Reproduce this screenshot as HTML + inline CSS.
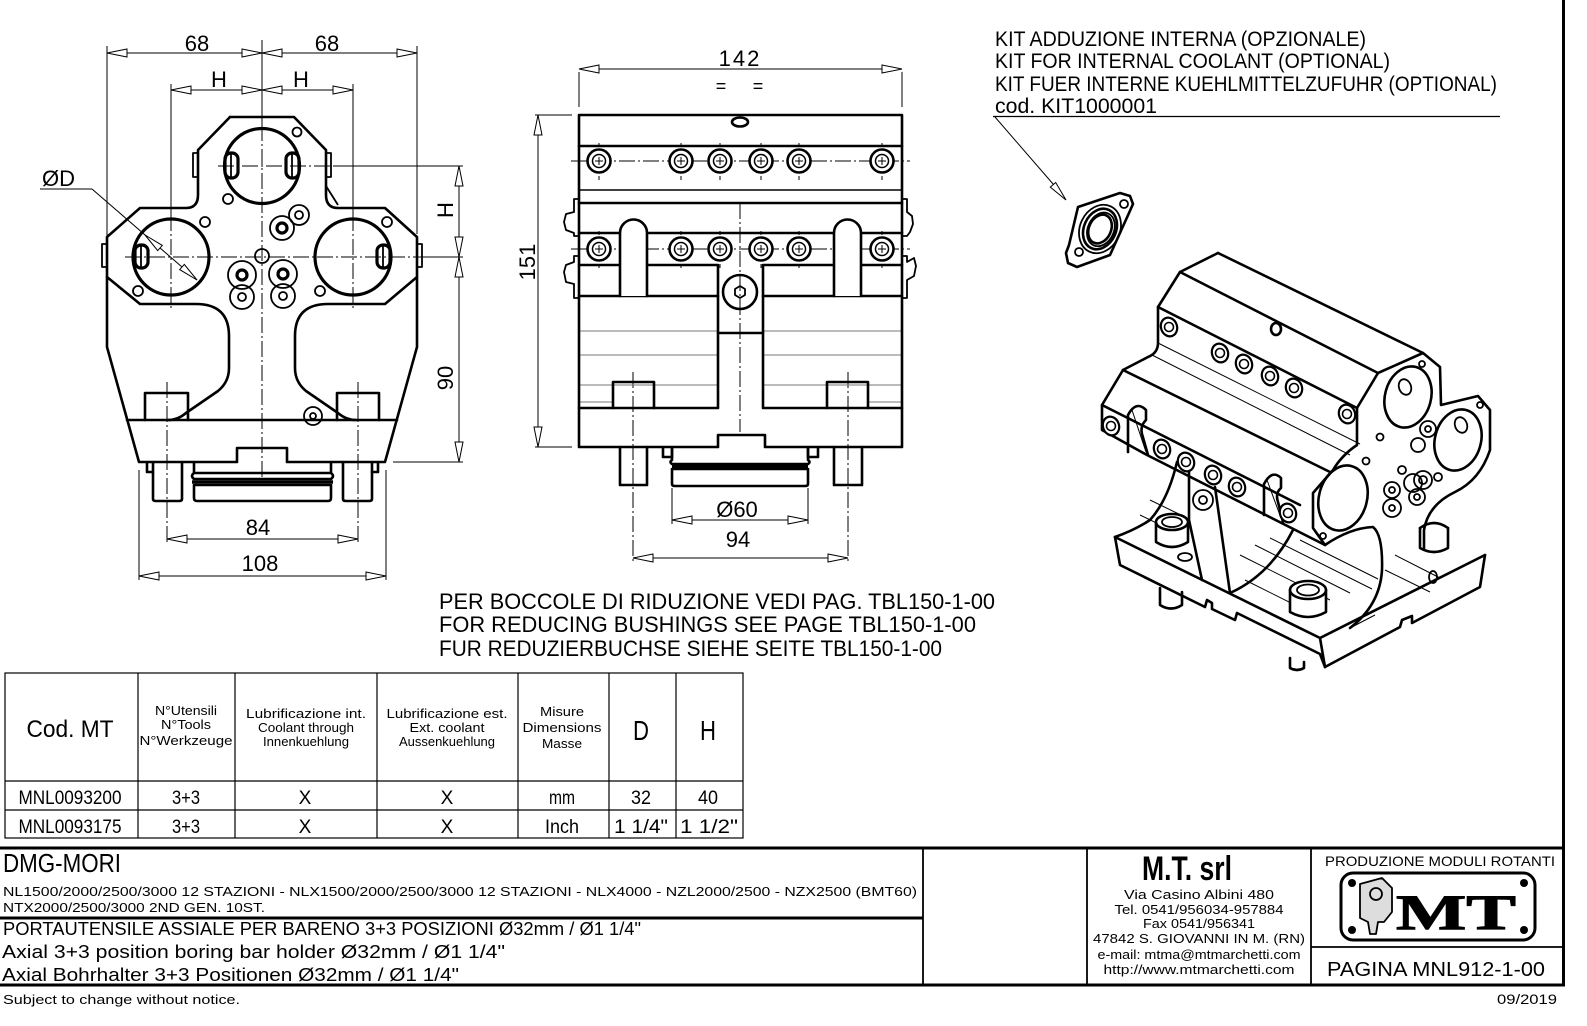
<!DOCTYPE html>
<html><head><meta charset="utf-8"><style>
html,body{margin:0;padding:0;background:#fff;}
svg{display:block}
text{font-family:"Liberation Sans",sans-serif;fill:#000}
</style></head><body>
<svg width="1587" height="1026" viewBox="0 0 1587 1026" xmlns="http://www.w3.org/2000/svg">
<defs><style>
.k{stroke:#000;stroke-width:2.6;fill:none;stroke-linejoin:round;stroke-linecap:round}
.m{stroke:#000;stroke-width:1.8;fill:none;stroke-linejoin:round}
.t{stroke:#000;stroke-width:1;fill:none}
.g{stroke:#777;stroke-width:1;fill:none}
.c{stroke:#000;stroke-width:1;fill:none;stroke-dasharray:16 3 2 3}
.a{fill:#fff;stroke:#000;stroke-width:1}
</style></defs>
<rect width="1587" height="1026" fill="#fff"/>

<!-- ================= LEFT FRONT VIEW ================= -->
<g class="t">
<line x1="107" y1="46" x2="107" y2="240"/>
<line x1="417" y1="46" x2="417" y2="234"/>
<line x1="171" y1="84" x2="171" y2="215"/>
<line x1="353" y1="84" x2="353" y2="215"/>
<line x1="262" y1="40" x2="262" y2="125"/>
<line x1="335" y1="166" x2="463" y2="166"/>
<line x1="425" y1="257" x2="463" y2="257"/>
<line x1="393" y1="462" x2="463" y2="462"/>
<line x1="139" y1="470" x2="139" y2="580"/>
<line x1="386" y1="470" x2="386" y2="580"/>
<line x1="107" y1="53" x2="417" y2="53"/>
<line x1="171" y1="90" x2="353" y2="90"/>
<line x1="459" y1="166" x2="459" y2="462"/>
<line x1="167" y1="539" x2="358" y2="539"/>
<line x1="139" y1="576" x2="386" y2="576"/>
<line x1="40" y1="189" x2="92" y2="189"/>
<line x1="92" y1="189" x2="197" y2="280"/>
</g>
<g class="c">
<line x1="262" y1="125" x2="262" y2="480"/>
<line x1="171" y1="215" x2="171" y2="310"/>
<line x1="353" y1="215" x2="353" y2="310"/>
<line x1="218" y1="166" x2="335" y2="166"/>
<line x1="125" y1="257" x2="425" y2="257"/>
<line x1="167" y1="382" x2="167" y2="542"/>
<line x1="358" y1="382" x2="358" y2="542"/>
</g>
<g class="k">
<path d="M230,117 L294,117 L326,150 L326,195 Q326,208 338,208 L385,208 L417,237 L417,277 L385,304 L328,304 Q295,304 295,336 L295,368 Q295,382 306,391 L338,413 Q346,420 356,420"/>
<path d="M230,117 L198,150 L198,195 Q198,208 186,208 L140,208 L107,237 L107,277 L140,304 L196,304 Q229,304 229,336 L229,368 Q229,382 218,391 L186,413 Q178,420 168,420"/>
<path d="M107,277 L107,347 L139,462 L237,462 L237,448 L287,448 L287,462 L385,462 L417,347 L417,277"/>
<line x1="127" y1="420" x2="397" y2="420"/>
<path d="M145,420 L145,393 L188,393 L188,420"/>
<path d="M337,420 L337,393 L379,393 L379,420"/>
<path d="M153,463 L153,499 Q153,501 156,501 L179,501 Q182,501 182,499 L182,463"/>
<path d="M343,463 L343,499 Q343,501 346,501 L369,501 Q372,501 372,499 L372,463"/>
<path d="M147,463 L147,472 L153,472"/><path d="M378,463 L378,472 L372,472"/>
<path d="M194,463 L194,473 Q190,476 194,479 L331,479 Q335,476 331,473 L331,463"/>
<path d="M194,473 L331,473"/>
<path d="M194,485 L194,498 Q194,501 197,501 L328,501 Q331,501 331,498 L331,485 Z"/>
</g>
<line x1="192" y1="482" x2="333" y2="482" stroke="#000" stroke-width="3.5"/>
<g stroke="#000" stroke-width="3.2" fill="none">
<circle cx="262" cy="166" r="37.5"/>
<circle cx="171" cy="257" r="38"/>
<circle cx="353" cy="257" r="38"/>
<rect x="225" y="153" width="13" height="25" rx="6"/>
<rect x="286" y="153" width="13" height="25" rx="6"/>
<rect x="135" y="245" width="13" height="23" rx="6"/>
<rect x="377" y="245" width="13" height="23" rx="6"/>
</g>
<g class="m">
<line x1="231" y1="154" x2="231" y2="177"/><line x1="292" y1="154" x2="292" y2="177"/>
<line x1="141" y1="246" x2="141" y2="267"/><line x1="383" y1="246" x2="383" y2="267"/>
<rect x="193" y="153" width="5" height="24"/><rect x="326" y="153" width="5" height="24"/>
<rect x="102" y="244" width="5" height="23"/><rect x="417" y="244" width="5" height="23"/>
<path d="M326,186 L338,205"/>
<circle cx="297" cy="132" r="4.5"/><circle cx="228" cy="199" r="5"/>
<circle cx="205" cy="222" r="5"/><circle cx="387" cy="222" r="5"/>
<circle cx="138" cy="291" r="5"/><circle cx="320" cy="291" r="5"/>
<circle cx="262" cy="256" r="7"/>
<circle cx="282" cy="228" r="12"/><circle cx="299" cy="215" r="10"/><circle cx="299" cy="215" r="4"/>
<circle cx="242" cy="275" r="14"/><circle cx="242" cy="297" r="12"/><circle cx="242" cy="297" r="4"/>
<circle cx="283" cy="274" r="14"/><circle cx="283" cy="296" r="12"/><circle cx="283" cy="296" r="4"/>
<circle cx="313" cy="416" r="9"/><circle cx="313" cy="416" r="3"/>
</g>
<g stroke="#000" stroke-width="3.2" fill="none">
<circle cx="282" cy="228" r="5"/><circle cx="242" cy="275" r="5"/><circle cx="283" cy="274" r="5"/>
</g>
<g class="a">
<polygon points="107,53 127,49 127,57"/><polygon points="262,53 242,49 242,57"/>
<polygon points="262,53 282,49 282,57"/><polygon points="417,53 397,49 397,57"/>
<polygon points="171,90 191,86 191,94"/><polygon points="262,90 242,86 242,94"/>
<polygon points="262,90 282,86 282,94"/><polygon points="353,90 333,86 333,94"/>
<polygon points="459,166 455,186 463,186"/><polygon points="459,257 455,237 463,237"/>
<polygon points="459,257 455,277 463,277"/><polygon points="459,462 455,442 463,442"/>
<polygon points="167,539 187,535 187,543"/><polygon points="358,539 338,535 338,543"/>
<polygon points="139,576 159,572 159,580"/><polygon points="386,576 366,572 366,580"/>
<polygon points="145,235 157.7,250.6 162.3,245.4"/>
<polygon points="197,280 179.7,269.6 184.3,264.4"/>
</g>
<g font-size="22">
<text x="197" y="51" text-anchor="middle">68</text>
<text x="327" y="51" text-anchor="middle">68</text>
<text x="219" y="87" text-anchor="middle">H</text>
<text x="301" y="87" text-anchor="middle">H</text>
<text x="258" y="535" text-anchor="middle">84</text>
<text x="260" y="571" text-anchor="middle">108</text>
<text x="42" y="186">ØD</text>
<text transform="translate(453,210) rotate(-90)" text-anchor="middle">H</text>
<text transform="translate(453,378) rotate(-90)" text-anchor="middle">90</text>
</g>

<!-- ================= MIDDLE SIDE VIEW ================= -->
<g class="t">
<line x1="579" y1="72" x2="579" y2="107"/><line x1="902" y1="72" x2="902" y2="107"/>
<line x1="579" y1="69" x2="902" y2="69"/>
<line x1="535" y1="115" x2="572" y2="115"/><line x1="535" y1="447" x2="572" y2="447"/>
<line x1="538" y1="115" x2="538" y2="447"/>
<line x1="672" y1="488" x2="672" y2="524"/><line x1="808" y1="488" x2="808" y2="524"/>
<line x1="672" y1="520" x2="808" y2="520"/>
<line x1="633" y1="558" x2="848" y2="558"/>
</g>
<g class="c">
<line x1="740" y1="203" x2="740" y2="432"/>
<line x1="633" y1="372" x2="633" y2="562"/>
<line x1="848" y1="372" x2="848" y2="562"/>
<line x1="571" y1="161" x2="910" y2="161"/>
<line x1="571" y1="249" x2="910" y2="249"/>
</g>
<g class="g">
<line x1="579" y1="331" x2="718" y2="331"/><line x1="763" y1="331" x2="902" y2="331"/>
<line x1="579" y1="355" x2="718" y2="355"/><line x1="763" y1="355" x2="902" y2="355"/>
<line x1="579" y1="385" x2="718" y2="385"/><line x1="763" y1="385" x2="902" y2="385"/>
<line x1="579" y1="402" x2="613" y2="402"/><line x1="868" y1="402" x2="902" y2="402"/>
</g>
<g class="k">
<path d="M579,115 L902,115 L902,447 L765,447 L765,435 L718,435 L718,447 L579,447 Z"/>
<line x1="579" y1="146" x2="902" y2="146"/>
<line x1="579" y1="203" x2="902" y2="203"/>
<line x1="579" y1="233" x2="902" y2="233"/>
<path d="M579,265 L718,265 L718,408 L579,408"/>
<path d="M902,265 L763,265 L763,408 L902,408"/>
<line x1="718" y1="333" x2="763" y2="333"/>
<line x1="579" y1="296" x2="718" y2="296"/>
<line x1="763" y1="296" x2="902" y2="296"/>
<path d="M613,408 L613,382 L654,382 L654,408"/>
<path d="M827,408 L827,382 L868,382 L868,408"/>
<path d="M620,447 L620,485 L647,485 L647,447"/>
<path d="M834,447 L834,485 L862,485 L862,447"/>
<path d="M663,448 L663,457 L672,457 L672,448"/><path d="M818,448 L818,457 L808,457 L808,448"/>
<path d="M672,448 L672,460 Q669,462 672,464 L808,464 Q811,462 808,460 L808,448"/>
<path d="M672,469 L672,484 Q672,486 675,486 L805,486 Q808,486 808,484 L808,469 Z"/>
<ellipse cx="740" cy="122" rx="8" ry="4.5"/>
<circle cx="740" cy="292" r="17"/>
</g>
<line x1="672" y1="466.5" x2="808" y2="466.5" stroke="#000" stroke-width="3"/>
<line x1="579" y1="190" x2="902" y2="190" stroke="#000" stroke-width="1.4"/>
<polygon points="740,286 745,289 745,295 740,298 735,295 735,289" class="m"/>
<g class="k">
<path d="M620,296 L620,233 A13.5,13.5 0 0 1 647,233 L647,296" fill="#fff"/>
<path d="M834,296 L834,233 A13.5,13.5 0 0 1 861,233 L861,296" fill="#fff"/>
</g>
<g class="m">
<path d="M579,199 L574,199 L574,212 L566,214 L564,222 L566,230 L574,233 L574,236 L579,236"/>
<path d="M579,256 L574,256 L574,262 L566,265 L564,272 L566,282 L574,284 L574,298 L579,298"/>
<path d="M902,199 L907,199 L907,212 L912,216 L913,224 L910,232 L907,236 L902,236"/>
<path d="M902,256 L907,256 L907,262 L914,258 L916,266 L914,276 L907,280 L907,298 L902,298"/>
</g>
<g>
<g stroke="#000" stroke-width="2.6" fill="#fff">
<circle cx="599" cy="161" r="11.5"/><circle cx="681" cy="161" r="11.5"/><circle cx="720" cy="161" r="11.5"/><circle cx="761" cy="161" r="11.5"/><circle cx="799" cy="161" r="11.5"/><circle cx="882" cy="161" r="11.5"/>
<circle cx="599" cy="249" r="11.5"/><circle cx="681" cy="249" r="11.5"/><circle cx="720" cy="249" r="11.5"/><circle cx="761" cy="249" r="11.5"/><circle cx="799" cy="249" r="11.5"/><circle cx="882" cy="249" r="11.5"/>
</g>
<g stroke="#000" stroke-width="1.5" fill="none">
<circle cx="599" cy="161" r="6.5"/><circle cx="681" cy="161" r="6.5"/><circle cx="720" cy="161" r="6.5"/><circle cx="761" cy="161" r="6.5"/><circle cx="799" cy="161" r="6.5"/><circle cx="882" cy="161" r="6.5"/>
<circle cx="599" cy="249" r="6.5"/><circle cx="681" cy="249" r="6.5"/><circle cx="720" cy="249" r="6.5"/><circle cx="761" cy="249" r="6.5"/><circle cx="799" cy="249" r="6.5"/><circle cx="882" cy="249" r="6.5"/>
</g>
<g class="t">
<path d="M595,161h8M599,157v8M677,161h8M681,157v8M716,161h8M720,157v8M757,161h8M761,157v8M795,161h8M799,157v8M878,161h8M882,157v8"/>
<path d="M595,249h8M599,245v8M677,249h8M681,245v8M716,249h8M720,245v8M757,249h8M761,245v8M795,249h8M799,245v8M878,249h8M882,245v8"/>
<path d="M599,143v4M681,143v4M720,143v4M761,143v4M799,143v4M882,143v4M599,176v4M681,176v4M720,176v4M761,176v4M799,176v4M882,176v4"/>
<path d="M599,231v4M681,231v4M720,231v4M761,231v4M799,231v4M882,231v4M599,264v4M681,264v4M720,264v4M761,264v4M799,264v4M882,264v4"/>
</g>
</g>
<g class="a">
<polygon points="579,69 599,65 599,73"/><polygon points="902,69 882,65 882,73"/>
<polygon points="538,115 534,135 542,135"/><polygon points="538,447 534,427 542,427"/>
<polygon points="672,520 692,516 692,524"/><polygon points="808,520 788,516 788,524"/>
<polygon points="633,558 653,554 653,562"/><polygon points="848,558 828,554 828,562"/>
</g>
<g font-size="22">
<text x="740" y="66" text-anchor="middle" letter-spacing="2">142</text>
<text x="721" y="92" text-anchor="middle" font-size="18">=</text>
<text x="758" y="92" text-anchor="middle" font-size="18">=</text>
<text transform="translate(535,262) rotate(-90)" text-anchor="middle">151</text>
<text x="737" y="517" text-anchor="middle">Ø60</text>
<text x="738" y="547" text-anchor="middle">94</text>
</g>

<!-- ================= NOTES ================= -->
<g font-size="22">
<text x="439" y="609" textLength="556" lengthAdjust="spacingAndGlyphs">PER BOCCOLE DI RIDUZIONE VEDI PAG. TBL150-1-00</text>
<text x="439" y="632" textLength="537" lengthAdjust="spacingAndGlyphs">FOR REDUCING BUSHINGS SEE PAGE TBL150-1-00</text>
<text x="439" y="656" textLength="503" lengthAdjust="spacingAndGlyphs">FUR REDUZIERBUCHSE SIEHE SEITE TBL150-1-00</text>
</g>
<g font-size="21">
<text x="995" y="46" textLength="371" lengthAdjust="spacingAndGlyphs">KIT ADDUZIONE INTERNA (OPZIONALE)</text>
<text x="995" y="68" textLength="395" lengthAdjust="spacingAndGlyphs">KIT FOR INTERNAL COOLANT (OPTIONAL)</text>
<text x="995" y="91" textLength="502" lengthAdjust="spacingAndGlyphs">KIT FUER INTERNE KUEHLMITTELZUFUHR (OPTIONAL)</text>
<text x="995" y="113" textLength="162" lengthAdjust="spacingAndGlyphs">cod. KIT1000001</text>
</g>
<line x1="993" y1="116.5" x2="1500" y2="116.5" stroke="#000" stroke-width="1.2"/>
<line x1="995" y1="117" x2="1060" y2="192" class="t"/>
<polygon class="a" points="1066,200 1050.3,187.1 1055.7,182.5"/>

<!-- ================= 3D VIEW ================= -->
<g class="k">
<path d="M1078,207 L1120,193 L1130,196 L1133,204 L1129,213 L1110,255 L1077,267 L1068,263 L1066,253 L1069,245 Z"/>
<ellipse cx="1100" cy="229" rx="16" ry="21" transform="rotate(25 1100 229)"/>
<ellipse cx="1100" cy="229" rx="11" ry="15" transform="rotate(25 1100 229)"/>
</g>
<g class="m">
<ellipse cx="1100" cy="229" rx="20" ry="25" transform="rotate(25 1100 229)"/>
<ellipse cx="1101" cy="229" rx="13" ry="17.5" transform="rotate(25 1100 229)"/>
<circle cx="1124" cy="204" r="4"/><circle cx="1079" cy="252" r="4"/>
</g>
<g class="t">
<line x1="1158" y1="343" x2="1360" y2="444"/>
<line x1="1152" y1="355" x2="1350" y2="455"/>
<line x1="1240" y1="555" x2="1330" y2="600"/>
<line x1="1255" y1="545" x2="1350" y2="593"/>
<line x1="1270" y1="538" x2="1372" y2="589"/>
<line x1="1300" y1="540" x2="1378" y2="579"/>
<line x1="1245" y1="580" x2="1315" y2="615"/>
<line x1="1350" y1="628" x2="1375" y2="615"/>
<line x1="1150" y1="500" x2="1185" y2="517"/>
<line x1="1140" y1="515" x2="1175" y2="532"/>
<line x1="1395" y1="555" x2="1440" y2="578"/>
<line x1="1385" y1="570" x2="1430" y2="592"/>
<line x1="1132" y1="410" x2="1146" y2="452"/>
<line x1="1267" y1="480" x2="1281" y2="518"/>
</g>
<g class="k">
<path d="M1218,253 L1423,353"/>
<path d="M1218,253 L1180,272 L1158,307 L1158,343 Q1158,353 1148,357 L1123,370 L1102,405 L1102,430 L1147,455 L1325,545"/>
<path d="M1180,272 L1378,373"/>
<path d="M1158,307 L1357,408"/>
<path d="M1123,370 L1330,472"/>
<path d="M1102,405 L1300,505"/>
<path d="M1378,373 L1423,353 L1440,367 L1441,405 L1478,396 L1490,410 L1490,450 Q1480,480 1455,492 Q1428,505 1424,530 L1424,548"/>
<path d="M1378,373 L1357,408 L1357,445 Q1342,455 1333,470 L1313,493 L1313,528 L1325,545 Q1350,528 1373,527 Q1383,535 1382,570 Q1380,605 1350,628"/>
<path d="M1128,452 L1128,415 Q1136,400 1146,410 L1146,420 Q1140,426 1142,434 L1148,455"/>
<path d="M1264,515 L1264,484 Q1272,469 1281,478 L1281,488 Q1275,493 1278,502 L1283,522"/>
<path d="M1177,462 Q1168,500 1150,520 Q1135,530 1115,537"/>
<path d="M1189,461 L1189,520 L1202,580"/>
<path d="M1215,487 L1230,593 Q1270,575 1293,530"/>
<path d="M1115,537 L1320,638 L1485,555"/>
<path d="M1115,537 L1120,565 L1205,607 L1207,600 L1212,603 L1212,609 L1235,620 L1237,613 L1320,654 L1325,667 L1400,627 L1402,620 L1412,616 L1412,623 L1480,587 L1485,555"/>
<path d="M1320,638 L1325,667"/>
<ellipse cx="1408" cy="397" rx="23" ry="31" transform="rotate(15 1408 397)"/>
<ellipse cx="1458" cy="440" rx="23" ry="31" transform="rotate(15 1458 440)"/>
<ellipse cx="1343" cy="498" rx="24" ry="33" transform="rotate(15 1343 498)"/>
<ellipse cx="1276" cy="329" rx="5" ry="6"/>
<path d="M1156,522 L1156,542 Q1172,552 1188,542 L1188,522" fill="#fff"/>
<ellipse cx="1172" cy="522" rx="16" ry="8" fill="#fff"/>
<path d="M1290,590 L1290,612 Q1308,622 1326,612 L1326,590" fill="#fff"/>
<ellipse cx="1308" cy="590" rx="18" ry="9" fill="#fff"/>
<path d="M1420,528 L1420,548 Q1434,556 1448,548 L1448,528"/>
<path d="M1420,528 Q1434,518 1448,528"/>
<path d="M1160,588 L1160,605 Q1171,612 1182,605 L1182,592"/>
<path d="M1290,658 L1290,668 Q1297,672 1304,668 L1304,662"/>
</g>
<g class="m">
<ellipse cx="1172" cy="522" rx="10" ry="5"/>
<ellipse cx="1308" cy="590" rx="11" ry="5.5"/>
<ellipse cx="1185" cy="557" rx="7" ry="4"/>
<ellipse cx="1433" cy="577" rx="4" ry="6"/>
<ellipse cx="1405" cy="387" rx="6" ry="8" transform="rotate(-20 1405 387)"/>
<ellipse cx="1461" cy="425" rx="6" ry="8" transform="rotate(-20 1461 425)"/>
<circle cx="1422" cy="364" r="3"/><circle cx="1480" cy="405" r="3"/>
<circle cx="1380" cy="437" r="3.5"/><circle cx="1366" cy="461" r="3.5"/>
<circle cx="1428" cy="429" r="8"/><circle cx="1428" cy="429" r="3"/>
<circle cx="1418" cy="445" r="7"/>
<circle cx="1402" cy="470" r="4"/><circle cx="1438" cy="477" r="4"/>
<circle cx="1392" cy="490" r="8"/><circle cx="1392" cy="490" r="3"/>
<circle cx="1392" cy="508" r="9"/><circle cx="1392" cy="508" r="3"/>
<circle cx="1413" cy="483" r="9"/><circle cx="1423" cy="480" r="9"/><circle cx="1423" cy="480" r="4"/>
<circle cx="1417" cy="497" r="8"/><circle cx="1417" cy="497" r="3"/>
<circle cx="1323" cy="536" r="3"/>
<circle cx="1203" cy="500" r="10"/><circle cx="1203" cy="500" r="4"/>
</g>
<g stroke="#000" fill="#fff">
<g stroke-width="2.2">
<ellipse cx="1169" cy="327" rx="8" ry="9.5" transform="rotate(-20 1169 327)"/>
<ellipse cx="1220" cy="353" rx="8" ry="9.5" transform="rotate(-20 1220 353)"/>
<ellipse cx="1244" cy="364" rx="8" ry="9.5" transform="rotate(-20 1244 364)"/>
<ellipse cx="1270" cy="376" rx="8" ry="9.5" transform="rotate(-20 1270 376)"/>
<ellipse cx="1294" cy="388" rx="8" ry="9.5" transform="rotate(-20 1294 388)"/>
<ellipse cx="1347" cy="414" rx="8" ry="9.5" transform="rotate(-20 1347 414)"/>
<ellipse cx="1111" cy="426" rx="8" ry="9.5" transform="rotate(-20 1111 426)"/>
<ellipse cx="1162" cy="449" rx="8" ry="9.5" transform="rotate(-20 1162 449)"/>
<ellipse cx="1186" cy="462" rx="8" ry="9.5" transform="rotate(-20 1186 462)"/>
<ellipse cx="1213" cy="475" rx="8" ry="9.5" transform="rotate(-20 1213 475)"/>
<ellipse cx="1237" cy="487" rx="8" ry="9.5" transform="rotate(-20 1237 487)"/>
<ellipse cx="1288" cy="513" rx="8" ry="9.5" transform="rotate(-20 1288 513)"/>
</g>
<g stroke-width="1.6" fill="none">
<circle cx="1169" cy="327" r="4.5"/><circle cx="1220" cy="353" r="4.5"/><circle cx="1244" cy="364" r="4.5"/>
<circle cx="1270" cy="376" r="4.5"/><circle cx="1294" cy="388" r="4.5"/><circle cx="1347" cy="414" r="4.5"/>
<circle cx="1111" cy="426" r="4.5"/><circle cx="1162" cy="449" r="4.5"/><circle cx="1186" cy="462" r="4.5"/>
<circle cx="1213" cy="475" r="4.5"/><circle cx="1237" cy="487" r="4.5"/><circle cx="1288" cy="513" r="4.5"/>
</g>
</g>

<!-- ================= TABLE ================= -->
<g stroke="#000" stroke-width="1.2" fill="none">
<rect x="5" y="673" width="738" height="165"/>
<line x1="5" y1="781" x2="743" y2="781"/>
<line x1="5" y1="810" x2="743" y2="810"/>
<line x1="138" y1="673" x2="138" y2="838"/>
<line x1="235" y1="673" x2="235" y2="838"/>
<line x1="377" y1="673" x2="377" y2="838"/>
<line x1="518" y1="673" x2="518" y2="838"/>
<line x1="609" y1="673" x2="609" y2="838"/>
<line x1="676" y1="673" x2="676" y2="838"/>
</g>
<text x="70" y="737" font-size="24" text-anchor="middle" textLength="87" lengthAdjust="spacingAndGlyphs">Cod. MT</text>
<g font-size="13" text-anchor="middle">
<text x="186" y="715" textLength="62" lengthAdjust="spacingAndGlyphs">N°Utensili</text>
<text x="186" y="729" textLength="50" lengthAdjust="spacingAndGlyphs">N°Tools</text>
<text x="186" y="745" textLength="93" lengthAdjust="spacingAndGlyphs">N°Werkzeuge</text>
<text x="306" y="718" textLength="120" lengthAdjust="spacingAndGlyphs">Lubrificazione int.</text>
<text x="306" y="732" textLength="96" lengthAdjust="spacingAndGlyphs">Coolant through</text>
<text x="306" y="746" textLength="86" lengthAdjust="spacingAndGlyphs">Innenkuehlung</text>
<text x="447" y="718" textLength="121" lengthAdjust="spacingAndGlyphs">Lubrificazione est.</text>
<text x="447" y="732" textLength="75" lengthAdjust="spacingAndGlyphs">Ext. coolant</text>
<text x="447" y="746" textLength="96" lengthAdjust="spacingAndGlyphs">Aussenkuehlung</text>
<text x="562" y="716" textLength="44" lengthAdjust="spacingAndGlyphs">Misure</text>
<text x="562" y="732" textLength="79" lengthAdjust="spacingAndGlyphs">Dimensions</text>
<text x="562" y="748" textLength="40" lengthAdjust="spacingAndGlyphs">Masse</text>
</g>
<g font-size="28" text-anchor="middle">
<text x="641" y="740" textLength="16" lengthAdjust="spacingAndGlyphs">D</text><text x="708" y="740" textLength="16" lengthAdjust="spacingAndGlyphs">H</text>
</g>
<g font-size="19" text-anchor="middle">
<text x="70" y="804" textLength="103" lengthAdjust="spacingAndGlyphs">MNL0093200</text>
<text x="186" y="804" textLength="28" lengthAdjust="spacingAndGlyphs">3+3</text><text x="305" y="804">X</text><text x="447" y="804">X</text>
<text x="562" y="804" textLength="26" lengthAdjust="spacingAndGlyphs">mm</text><text x="641" y="804" textLength="20" lengthAdjust="spacingAndGlyphs">32</text><text x="708" y="804" textLength="20" lengthAdjust="spacingAndGlyphs">40</text>
<text x="70" y="833" textLength="103" lengthAdjust="spacingAndGlyphs">MNL0093175</text>
<text x="186" y="833" textLength="28" lengthAdjust="spacingAndGlyphs">3+3</text><text x="305" y="833">X</text><text x="447" y="833">X</text>
<text x="562" y="833" textLength="34" lengthAdjust="spacingAndGlyphs">Inch</text>
<text x="641" y="833" textLength="54" lengthAdjust="spacingAndGlyphs">1 1/4"</text>
<text x="709" y="833" textLength="58" lengthAdjust="spacingAndGlyphs">1 1/2"</text>
</g>

<!-- ================= TITLE BLOCK ================= -->
<g stroke="#000" fill="none">
<line x1="0" y1="848" x2="1565" y2="848" stroke-width="3"/>
<line x1="0" y1="918" x2="923" y2="918" stroke-width="3"/>
<line x1="0" y1="985" x2="1565" y2="985" stroke-width="3"/>
<line x1="1563.5" y1="0" x2="1563.5" y2="986" stroke-width="3"/>
<line x1="923" y1="848" x2="923" y2="985" stroke-width="1.8"/>
<line x1="1087" y1="848" x2="1087" y2="985" stroke-width="1.8"/>
<line x1="1311" y1="848" x2="1311" y2="985" stroke-width="1.8"/>
<line x1="1311" y1="947" x2="1563" y2="947" stroke-width="1.8"/>
</g>
<text x="3" y="872" font-size="26" textLength="118" lengthAdjust="spacingAndGlyphs">DMG-MORI</text>
<text x="3" y="896" font-size="13" textLength="914" lengthAdjust="spacingAndGlyphs">NL1500/2000/2500/3000 12 STAZIONI - NLX1500/2000/2500/3000 12 STAZIONI - NLX4000 - NZL2000/2500 - NZX2500 (BMT60)</text>
<text x="3" y="912" font-size="13" textLength="262" lengthAdjust="spacingAndGlyphs">NTX2000/2500/3000 2ND GEN. 10ST.</text>
<text x="3" y="935" font-size="18" textLength="638" lengthAdjust="spacingAndGlyphs">PORTAUTENSILE ASSIALE PER BARENO 3+3 POSIZIONI Ø32mm / Ø1 1/4"</text>
<text x="2" y="958" font-size="18" textLength="503" lengthAdjust="spacingAndGlyphs">Axial 3+3 position boring bar holder Ø32mm / Ø1 1/4"</text>
<text x="2" y="981" font-size="18" textLength="457" lengthAdjust="spacingAndGlyphs">Axial Bohrhalter 3+3 Positionen Ø32mm / Ø1 1/4"</text>
<text x="3" y="1004" font-size="13" textLength="237" lengthAdjust="spacingAndGlyphs">Subject to change without notice.</text>
<text x="1557" y="1004" font-size="14" text-anchor="end" textLength="60" lengthAdjust="spacingAndGlyphs">09/2019</text>

<text x="1187" y="880" font-size="34" font-weight="bold" text-anchor="middle" textLength="90" lengthAdjust="spacingAndGlyphs">M.T. srl</text>
<g font-size="13" text-anchor="middle">
<text x="1199" y="899" textLength="150" lengthAdjust="spacingAndGlyphs">Via Casino Albini 480</text>
<text x="1199" y="914" textLength="169" lengthAdjust="spacingAndGlyphs">Tel. 0541/956034-957884</text>
<text x="1199" y="928" textLength="112" lengthAdjust="spacingAndGlyphs">Fax 0541/956341</text>
<text x="1199" y="943" textLength="212" lengthAdjust="spacingAndGlyphs">47842 S. GIOVANNI IN M. (RN)</text>
<text x="1199" y="959" textLength="203" lengthAdjust="spacingAndGlyphs">e-mail: mtma@mtmarchetti.com</text>
<text x="1199" y="974" textLength="191" lengthAdjust="spacingAndGlyphs">http://www.mtmarchetti.com</text>
</g>
<text x="1325" y="866" font-size="14" textLength="230" lengthAdjust="spacingAndGlyphs">PRODUZIONE MODULI ROTANTI</text>
<text x="1327" y="976" font-size="20" textLength="218" lengthAdjust="spacingAndGlyphs">PAGINA MNL912-1-00</text>
<rect x="1341" y="873" width="194" height="67" rx="12" fill="none" stroke="#000" stroke-width="3"/>
<g fill="#000">
<circle cx="1352" cy="883" r="4"/><circle cx="1524" cy="883" r="4"/>
<circle cx="1352" cy="930" r="4"/><circle cx="1524" cy="930" r="4"/>
</g>
<g class="m">
<path d="M1360,884 L1382,878 L1392,888 L1392,912 L1384,922 L1378,922 L1376,934 L1370,934 L1368,922 L1360,918 Z" fill="#ddd"/>
<circle cx="1376" cy="894" r="6"/>
</g>
<text x="1396" y="929" font-size="50" font-weight="bold" textLength="120" lengthAdjust="spacingAndGlyphs" stroke="#000" stroke-width="1" style="font-family:'Liberation Serif',serif">MT</text>
</svg>
</body></html>
